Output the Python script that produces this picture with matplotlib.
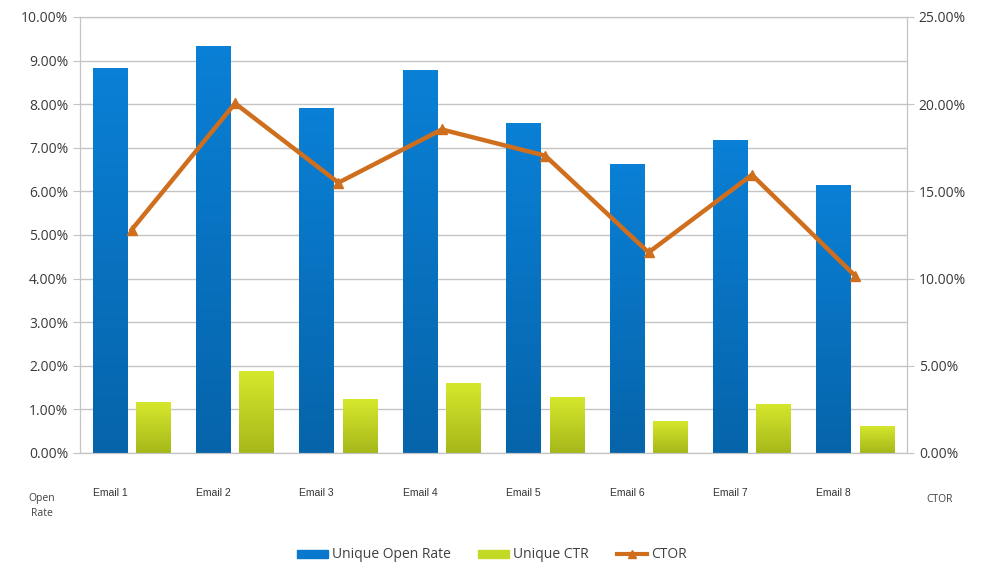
import numpy as np
import matplotlib
matplotlib.use("Agg")
import matplotlib.pyplot as plt
from matplotlib.colors import LinearSegmentedColormap
from matplotlib.patches import Patch
from matplotlib.lines import Line2D
from matplotlib.ticker import PercentFormatter

# values (percent)
emails = ["Email 1", "Email 2", "Email 3", "Email 4",
          "Email 5", "Email 6", "Email 7", "Email 8"]
open_rate = [8.82, 9.33, 7.91, 8.78, 7.58, 6.62, 7.18, 6.14]
ctr = [1.16, 1.87, 1.23, 1.61, 1.29, 0.74, 1.13, 0.62]
ctor = [12.8, 20.05, 15.5, 18.55, 17.05, 11.5, 15.95, 10.15]

plt.rcParams.update({"font.family": ["Open Sans", "DejaVu Sans"]})
GRID = "#c4c4c4"
BLUE = LinearSegmentedColormap.from_list("b", ["#0664aa", "#0a80d6"])
GREEN = LinearSegmentedColormap.from_list("g", ["#a6b81a", "#d6e82c"])
ORANGE = "#cf6f1e"

fig = plt.figure(figsize=(9.84, 5.67), dpi=100)
ax = fig.add_axes([80 / 984, 114 / 567, 827 / 984, 436 / 567])
x = np.arange(len(emails))
w, off = 0.335, 0.21

def gradient_bars(bars, cmap):
    grad = np.linspace(0, 1, 256).reshape(-1, 1)
    for b in bars:
        x0, y0 = b.get_x(), b.get_y()
        im = ax.imshow(grad, cmap=cmap, origin="lower", aspect="auto",
                       extent=(x0, x0 + b.get_width(), y0, y0 + b.get_height()),
                       zorder=2)
        im.set_clip_path(b)

b1 = ax.bar(x - off, open_rate, w, color="none", edgecolor="none", zorder=2)
b2 = ax.bar(x + off, ctr, w, color="none", edgecolor="none", zorder=2)
gradient_bars(b1, BLUE)
gradient_bars(b2, GREEN)

ax.set_xlim(-0.5, len(emails) - 0.5)
ax.set_ylim(0, 10)
ax.set_yticks(np.arange(0, 11, 1))
ax.yaxis.set_major_formatter(PercentFormatter(decimals=2))
ax.grid(axis="y", color=GRID, lw=1.0)
ax.set_axisbelow(True)
ax.set_xticks(x - off)
ax.set_xticklabels(emails, family="Liberation Sans", fontsize=7.5, color="#333333")
ax.tick_params(axis="x", length=0, pad=25)
ax.tick_params(axis="y", length=5, color=GRID, labelsize=10, labelcolor="#3a3a3a")
for s in ax.spines.values():
    s.set_color(GRID)

ax2 = ax.twinx()
ax2.plot(x, ctor, color=ORANGE, lw=3.2, marker="^", ms=7, zorder=5)
ax2.set_ylim(0, 25)
ax2.set_yticks(np.arange(0, 26, 5))
ax2.yaxis.set_major_formatter(PercentFormatter(decimals=2))
ax2.tick_params(axis="y", length=5, color=GRID, labelsize=10, labelcolor="#3a3a3a")
for s in ax2.spines.values():
    s.set_color(GRID)

fig.text(42 / 984, 1 - 506 / 567, "Open\nRate", ha="center", va="center",
         fontsize=7.5, color="#404040", linespacing=1.6)
fig.text(940 / 984, 1 - 500 / 567, "CTOR", ha="center", va="center",
         fontsize=7.5, color="#404040")

handles = [Patch(color="#0a78cc"), Patch(color="#c4d826"),
           Line2D([], [], color=ORANGE, lw=3, marker="^", ms=6)]
fig.legend(handles, ["Unique Open Rate", "Unique CTR", "CTOR"],
           loc="center", bbox_to_anchor=(0.5, 1 - 555 / 567), ncol=3,
           frameon=False, fontsize=10, handlelength=2.2, handleheight=0.5,
           columnspacing=2.0, handletextpad=0.3, labelcolor="#404040")

fig.savefig("out.png", dpi=100)
